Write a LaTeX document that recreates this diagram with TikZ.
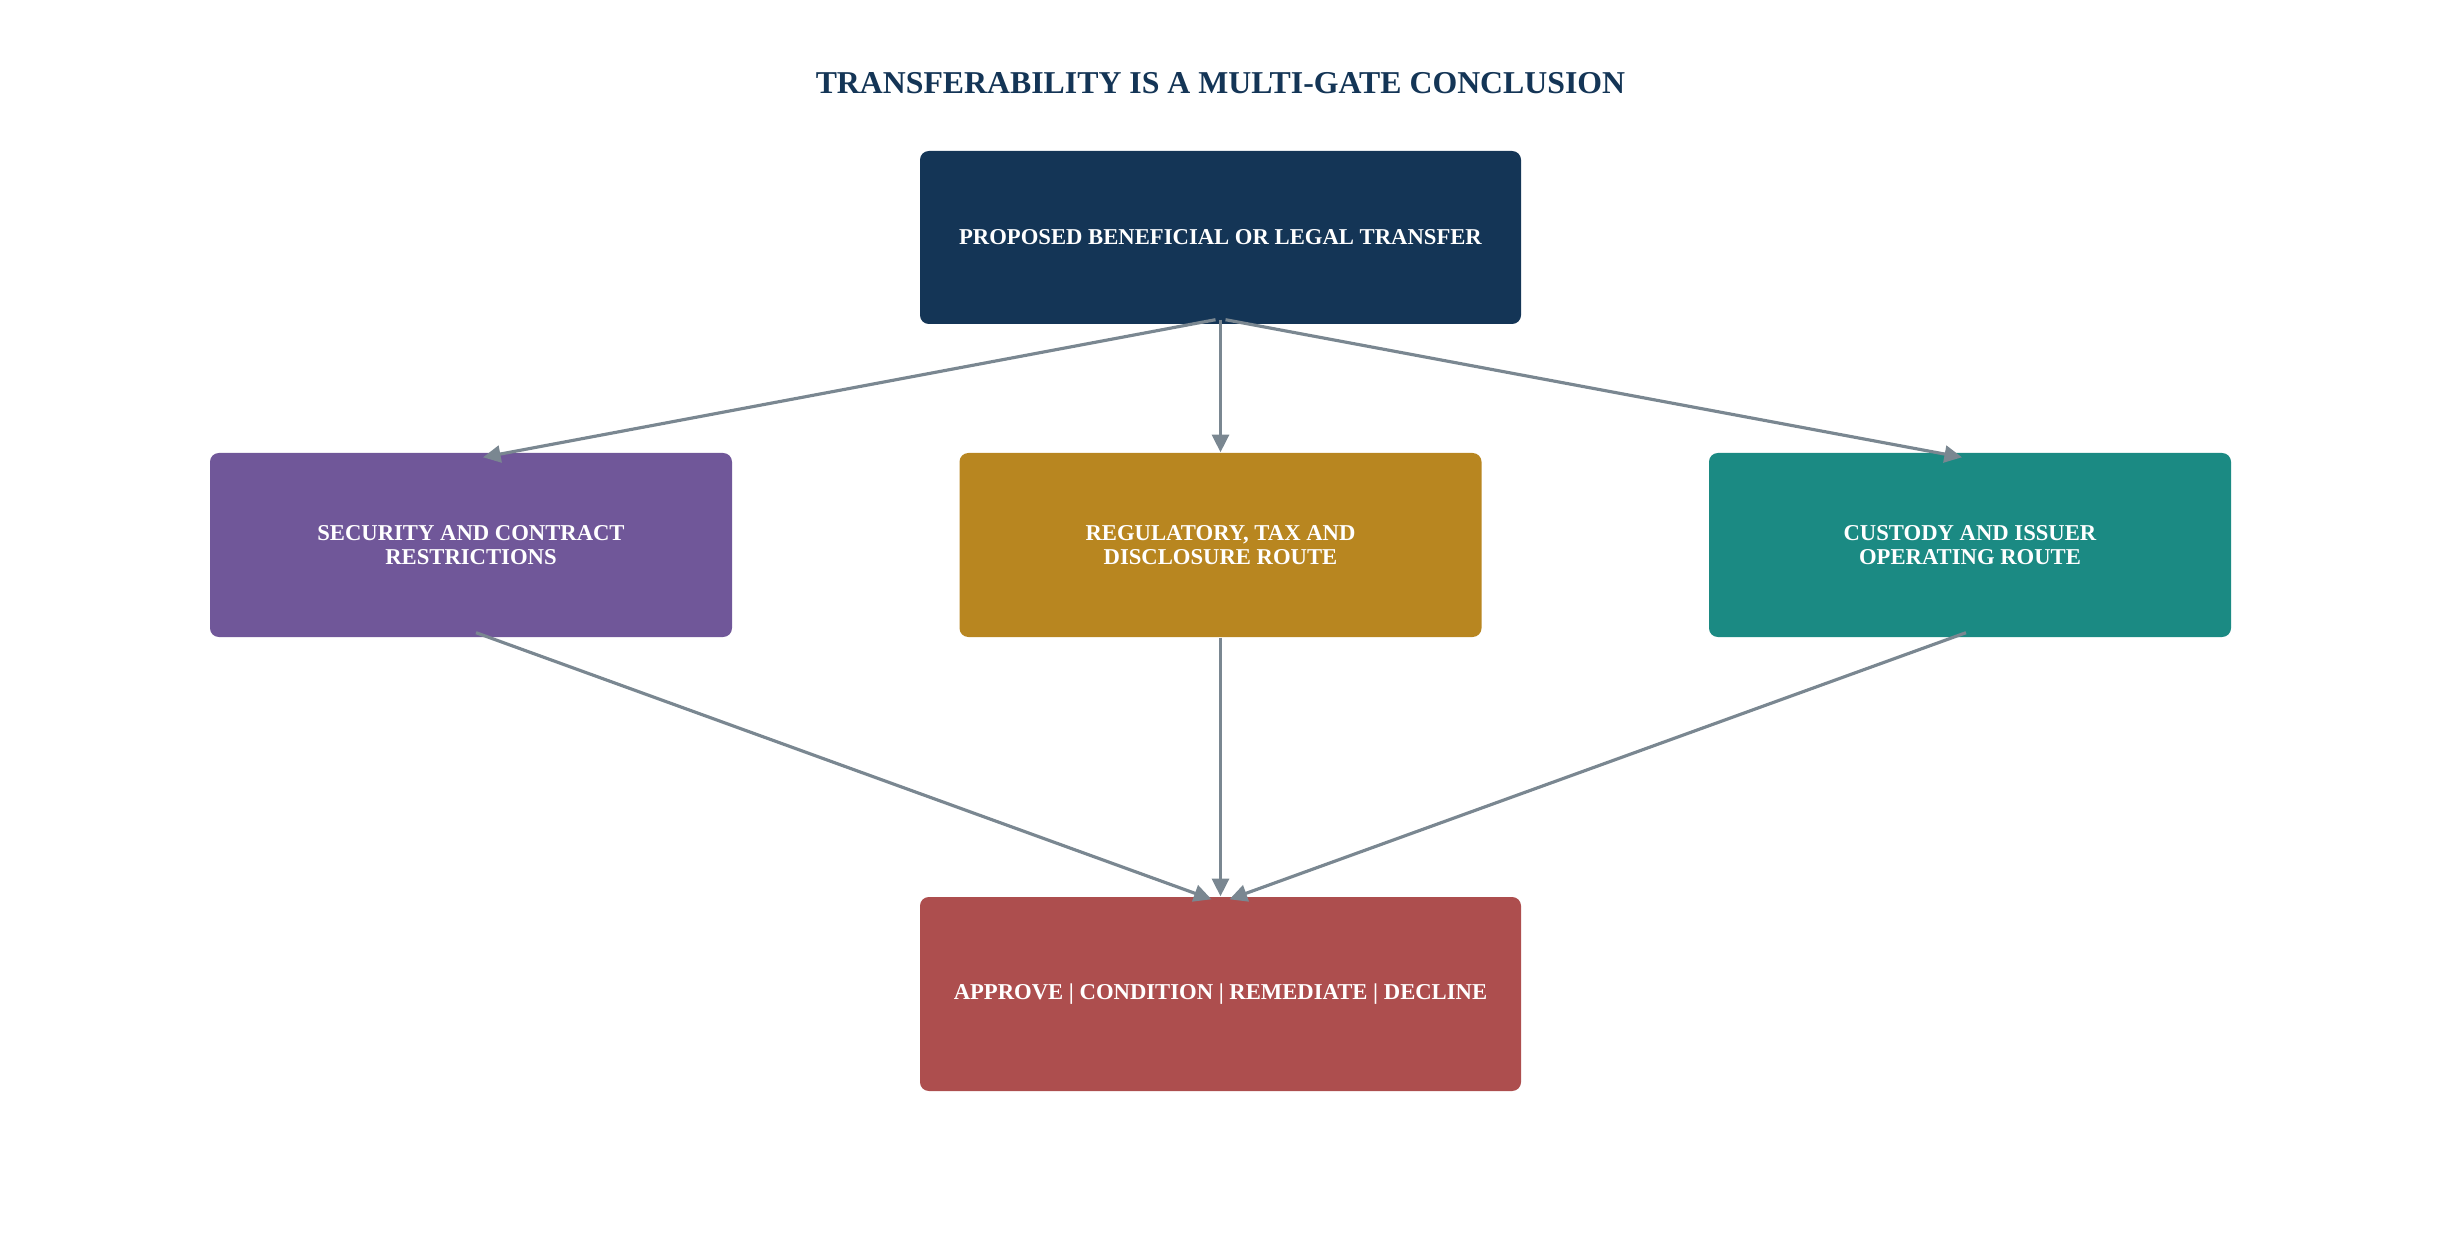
\documentclass[tikz,border=0pt]{standalone}
\usepackage{fontspec}
\setmainfont{Liberation Serif}
\usetikzlibrary{arrows.meta}

\definecolor{navy}{HTML}{143556}
\definecolor{plum}{HTML}{705799}
\definecolor{ochre}{HTML}{B88620}
\definecolor{teal}{HTML}{1B8A83}
\definecolor{brick}{HTML}{AD4E4E}
\definecolor{wire}{HTML}{7A8791}

\begin{document}
\begin{tikzpicture}[>={Triangle[length=5pt, width=4.8pt]},
    gate/.style={rectangle, rounded corners=2.5pt, inner sep=0pt, text=white, align=center,
        font=\fontsize{6.45}{6.8}\selectfont\bfseries},
    flow/.style={->, draw=wire, line width=0.9pt}]
    \useasboundingbox (0, 0) rectangle (24.41, -12.53);

    % Nodes
    \node[text=navy, font=\fontsize{9.05}{10}\selectfont\bfseries] at (12.205, -0.83) (title) {TRANSFERABILITY IS A MULTI-GATE CONCLUSION};
    \node[gate, fill=navy, minimum width=6.01cm, minimum height=1.73cm] at (12.205, -2.375) (transfer) {PROPOSED BENEFICIAL OR LEGAL TRANSFER};
    \node[gate, fill=plum, minimum width=5.22cm, minimum height=1.84cm] at (4.71, -5.45) (security) {SECURITY AND CONTRACT\\RESTRICTIONS};
    \node[gate, fill=ochre, minimum width=5.22cm, minimum height=1.84cm] at (12.205, -5.45) (regulatory) {REGULATORY, TAX AND\\DISCLOSURE ROUTE};
    \node[gate, fill=teal, minimum width=5.22cm, minimum height=1.84cm] at (19.70, -5.45) (custody) {CUSTODY AND ISSUER\\OPERATING ROUTE};
    \node[gate, fill=brick, minimum width=6.01cm, minimum height=1.94cm] at (12.205, -9.94) (outcome) {APPROVE | CONDITION | REMEDIATE | DECLINE};

    % Edges
    \draw[flow] ([xshift=-0.05cm, yshift=0.05cm]transfer.south) -- ([xshift=0.12cm, yshift=-0.05cm]security.north);
    \draw[flow] ([yshift=0.05cm]transfer.south) -- (regulatory.north);
    \draw[flow] ([xshift=0.05cm, yshift=0.05cm]transfer.south) -- ([xshift=-0.08cm, yshift=-0.05cm]custody.north);

    \draw[flow] ([xshift=0.05cm, yshift=0.05cm]security.south) -- ([xshift=-0.09cm, yshift=-0.03cm]outcome.north);
    \draw[flow] (regulatory.south) -- (outcome.north);
    \draw[flow] ([xshift=-0.04cm, yshift=0.05cm]custody.south) -- ([xshift=0.09cm, yshift=-0.03cm]outcome.north);
\end{tikzpicture}
\end{document}
